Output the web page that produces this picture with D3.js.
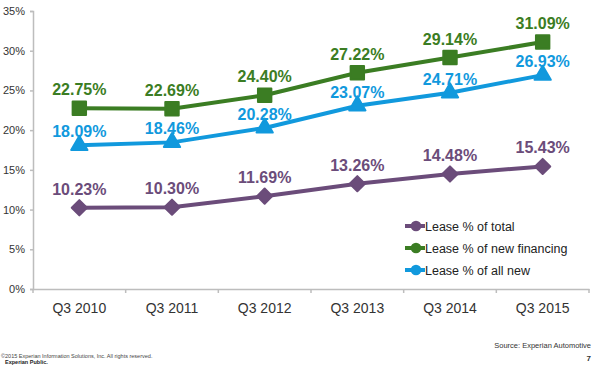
<!DOCTYPE html>
<html>
<head>
<meta charset="utf-8">
<script src="https://cdn.jsdelivr.net/npm/d3@7"></script>
<style>
	body { margin: 0; background: #fff; }
	svg { display: block; font-family: "Liberation Sans", Arial, sans-serif; }
	.axis path, .axis line { stroke: #bdbdbd; stroke-width: 1.5; }
	.axis text { fill: #333; }
</style>
</head>
<body>
<svg id="chart" width="600" height="366"></svg>
<script>
const quarters = ['Q3 2010', 'Q3 2011', 'Q3 2012', 'Q3 2013', 'Q3 2014', 'Q3 2015'];
const leaseTotal = [10.23, 10.30, 11.69, 13.26, 14.48, 15.43];
const leaseNewFinancing = [22.75, 22.69, 24.40, 27.22, 29.14, 31.09];
const leaseAllNew = [18.09, 18.46, 20.28, 23.07, 24.71, 26.93];
const yTicks = [0, 5, 10, 15, 20, 25, 30, 35];

const svg = d3.select('#chart');
const plotLeft = 33, plotRight = 589, plotTop = 11, plotBottom = 289;

const xScale = d3.scaleBand().domain(quarters).range([plotLeft, plotRight]);
const yScale = d3.scaleLinear().domain([0, 35]).range([plotBottom, plotTop]);

// axes
svg.append('g')
	.attr('class', 'axis')
	.attr('transform', `translate(${plotLeft},0)`)
	.call(d3.axisLeft(yScale).tickValues(yTicks).tickFormat(d => d + '%').tickSize(3).tickPadding(5))
	.call(g => g.selectAll('text').style('font-size', '11px'));

svg.append('g')
	.attr('class', 'axis')
	.attr('transform', `translate(0,${plotBottom})`)
	.call(d3.axisBottom(xScale).tickSize(0).tickPadding(14))
	.call(g => g.selectAll('text').style('font-size', '14px'))
	.call(g => g.selectAll('.bound')
		.data(d3.range(quarters.length + 1))
		.enter()
		.append('line')
		.attr('x1', i => plotLeft + i * xScale.step())
		.attr('x2', i => plotLeft + i * xScale.step())
		.attr('y1', 0)
		.attr('y2', 4));

const series = [
	{ name: 'Lease % of total', values: leaseTotal, color: '#6b4c7a', symbol: d3.symbolSquare, size: 115, rot: 45, labelDy: -13 },
	{ name: 'Lease % of new financing', values: leaseNewFinancing, color: '#3b7d23', symbol: d3.symbolSquare, size: 180, rot: 0, labelDy: -13 },
	{ name: 'Lease % of all new', values: leaseAllNew, color: '#1199dd', symbol: d3.symbolTriangle, size: 115, rot: 0, labelDy: -8 }
];

const cx = (i) => xScale(quarters[i]) + xScale.bandwidth() / 2;

series.forEach(s => {
	svg.append('path')
		.datum(s.values)
		.attr('fill', 'none')
		.attr('stroke', s.color)
		.attr('stroke-width', 4)
		.attr('d', d3.line().x((d, i) => cx(i)).y(d => yScale(d)));

	svg.selectAll(null)
		.data(s.values)
		.enter()
		.append('path')
		.attr('d', d3.symbol().type(s.symbol).size(s.size))
		.attr('transform', (d, i) => `translate(${cx(i)},${yScale(d)}) rotate(${s.rot})`)
		.attr('fill', s.color)
		.attr('stroke', s.color)
		.attr('stroke-width', 2)
		.attr('stroke-linejoin', 'round');

	svg.selectAll(null)
		.data(s.values)
		.enter()
		.append('text')
		.attr('x', (d, i) => cx(i))
		.attr('y', d => yScale(d) + s.labelDy)
		.attr('text-anchor', 'middle')
		.attr('fill', s.color)
		.style('font-size', '16px')
		.style('font-weight', 'bold')
		.text(d => d.toFixed(2) + '%');
});

// legend
const legend = svg.append('g').attr('transform', 'translate(405,226)');
series.forEach((s, i) => {
	const g = legend.append('g').attr('transform', `translate(0,${i * 22})`);
	g.append('line')
		.attr('x1', 0).attr('x2', 20)
		.attr('stroke', s.color).attr('stroke-width', 4);
	g.append('path')
		.attr('d', d3.symbol().type(d3.symbolCircle).size(90))
		.attr('transform', 'translate(11,0)')
		.attr('fill', s.color);
	g.append('text')
		.attr('x', 20)
		.attr('y', 4.5)
		.attr('fill', '#222')
		.style('font-size', '12.5px')
		.text(s.name);
});

// footer
svg.append('text')
	.attr('x', 591).attr('y', 348)
	.attr('text-anchor', 'end')
	.attr('fill', '#333')
	.style('font-size', '7.5px')
	.text('Source: Experian Automotive');

svg.append('text')
	.attr('x', 591).attr('y', 361)
	.attr('text-anchor', 'end')
	.attr('fill', '#333')
	.style('font-size', '8px')
	.style('font-weight', 'bold')
	.text('7');

svg.append('text')
	.attr('x', 1).attr('y', 358)
	.attr('fill', '#444')
	.style('font-size', '5.5px')
	.text('©2015 Experian Information Solutions, Inc. All rights reserved.');

svg.append('text')
	.attr('x', 5).attr('y', 364)
	.attr('fill', '#222')
	.style('font-size', '5.5px')
	.style('font-weight', 'bold')
	.text('Experian Public.');
</script>
</body>
</html>
